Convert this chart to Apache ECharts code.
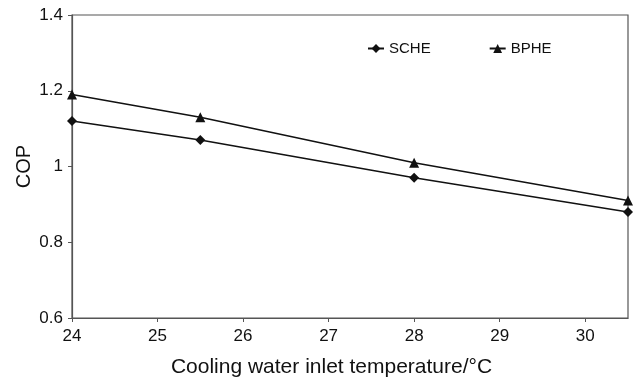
<!DOCTYPE html>
<html>
<head>
<meta charset="utf-8">
<script src="https://cdn.jsdelivr.net/npm/echarts@6/dist/echarts.min.js"></script>
<style>html,body{margin:0;padding:0;background:#fff}#c{width:633px;height:379px}</style>
</head>
<body>
<div id="c"></div>
<script>
const temps = [24, 25.5, 28, 30.5];
const scheCOP = [1.12, 1.07, 0.97, 0.88];
const bpheCOP = [1.19, 1.13, 1.01, 0.91];
const seriesNames = ['SCHE', 'BPHE'];
const xTitle = 'Cooling water inlet temperature/°C';
const yTitle = 'COP';

const font = '"Liberation Sans", Arial, sans-serif';
const chart = echarts.init(document.getElementById('c'), null, {renderer: 'canvas'});
const pairs = a => temps.map((t, i) => [t, a[i]]);
chart.setOption({
  animation: false,
  backgroundColor: '#fff',
  grid: {left: 72, right: 5, top: 15, bottom: 61, show: true, borderColor: '#555', borderWidth: 1.2,
         backgroundColor: 'transparent', containLabel: false, outerBoundsMode: 'none'},
  legend: {
    left: 362, top: 36, itemWidth: 16, itemHeight: 11, itemGap: 58,
    textStyle: {fontFamily: font, fontSize: 15, color: '#111'},
    data: seriesNames
  },
  xAxis: {
    type: 'value', min: 24, max: 30.5, interval: 1,
    name: xTitle, nameLocation: 'middle', nameGap: 39, nameMoveOverlap: false,
    nameTextStyle: {fontFamily: font, fontSize: 21, color: '#111', padding: [0, 37, 0, 0]},
    axisLine: {lineStyle: {color: '#555', width: 1.2}},
    axisTick: {show: true, length: 4, lineStyle: {color: '#555'}},
    axisLabel: {fontFamily: font, fontSize: 17, color: '#111', margin: 10, showMaxLabel: false},
    splitLine: {show: false}
  },
  yAxis: {
    type: 'value', min: 0.6, max: 1.4, interval: 0.2,
    name: yTitle, nameLocation: 'middle', nameGap: 38, nameMoveOverlap: false,
    nameTextStyle: {fontFamily: font, fontSize: 20, color: '#111'},
    axisLine: {show: true, lineStyle: {color: '#555', width: 1.2}},
    axisTick: {show: true, length: 4, lineStyle: {color: '#555'}},
    axisLabel: {fontFamily: font, fontSize: 17, color: '#111', margin: 9, formatter: v => String(Math.round(v * 10) / 10)},
    splitLine: {show: false}
  },
  series: [
    {name: seriesNames[0], type: 'line', data: pairs(scheCOP), symbol: 'diamond', symbolSize: 10,
     lineStyle: {color: '#111', width: 1.5}, itemStyle: {color: '#111'}},
    {name: seriesNames[1], type: 'line', data: pairs(bpheCOP), symbol: 'triangle', symbolSize: 10,
     lineStyle: {color: '#111', width: 1.5}, itemStyle: {color: '#111'}}
  ]
});
</script>
</body>
</html>
